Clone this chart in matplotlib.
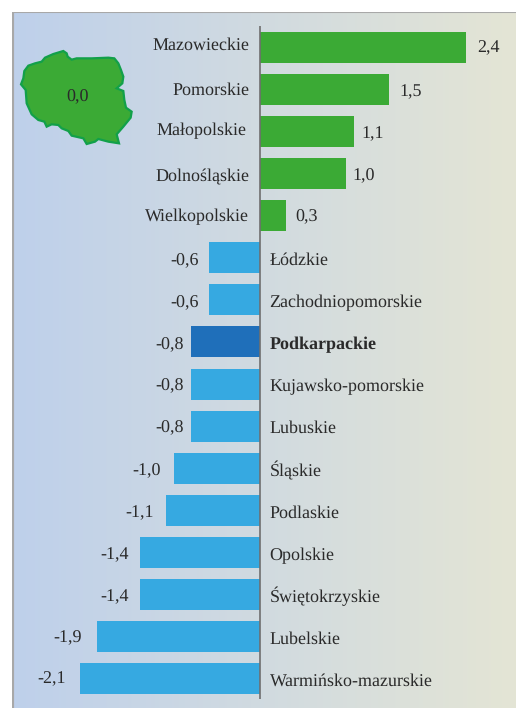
# -*- coding: utf-8 -*-
# Wykres slupkowy wojewodztw z mapka Polski w rogu
import matplotlib
matplotlib.use("Agg")
import matplotlib.pyplot as plt
import numpy as np

# Dane
regiony = ["Mazowieckie", "Pomorskie", "Małopolskie", "Dolnośląskie", "Wielkopolskie",
           "Łódzkie", "Zachodniopomorskie", "Podkarpackie", "Kujawsko-pomorskie", "Lubuskie",
           "Śląskie", "Podlaskie", "Opolskie", "Świętokrzyskie", "Lubelskie", "Warmińsko-mazurskie"]
wartosci = [2.4, 1.5, 1.1, 1.0, 0.3, -0.6, -0.6, -0.8, -0.8, -0.8, -1.0, -1.1, -1.4, -1.4, -1.9, -2.1]
polska = "0,0"
wyrozniony = "Podkarpackie"

# Przesuniecia podpisow w pikselach (w oryginale nie sa rowne)
nazwa_dy = [2.5, 5.5, 3.5, 7.3, 5, 7, 7, 7, 7, 7, 7.8, 7.7, 7.6, 7.5, 7.5, 7]
nazwa_dx = [11, 11, 14, 11, 11, 9.5, 9.5, 9.5, 9.5, 9.5, 9.5, 9.5, 9.5, 9.5, 9.5, 9.5]
liczba_dy = [5, 6.4, 6.4, 7, 5, 7, 7, 7, 6, 6, 7, 6.7, 6.6, 6.5, 5.5, 4.5]
liczba_dx = [11, 11, 7, 7, 10, 10, 10, 8, 8, 8, 13, 12, 11, 11, 15, 14]

# Kontur mapki (wspolrzedne z wycinka 3x, poczatek w 15,45)
kontur_x = [18, 25, 28, 40, 60, 80, 90, 115, 145, 155, 158, 170, 185, 230, 280, 298, 310, 318, 325, 322, 305,
            325, 328, 333, 350, 347, 325, 305, 312, 280, 250, 240, 215, 205, 170, 160, 140, 130, 110, 95, 88,
            70, 50, 35, 32]
kontur_y = [118, 100, 78, 62, 55, 50, 38, 27, 18, 25, 35, 44, 40, 40, 38, 40, 55, 75, 95, 115, 130,
            138, 165, 188, 200, 218, 245, 268, 295, 290, 282, 290, 297, 280, 272, 258, 250, 240, 238, 245, 230,
            225, 208, 175, 135]

plt.rcParams["font.family"] = ["Liberation Serif", "DejaVu Serif"]
plt.rcParams["font.size"] = 13.15
plt.rcParams["text.hinting"] = "no_hinting"
plt.rcParams["text.hinting_factor"] = 1

fig = plt.figure(figsize=(5.16, 7.08), dpi=100, facecolor="white")
szer, wys = 516.0, 708.0
ax = fig.add_axes([12 / szer, 0, (szer - 12) / szer, (wys - 12) / wys])

skala = 85.8
odstep = 42.07
xmin = (12 - 260) / skala
xmax = (516 - 260) / skala
ydol = (708 - 47.5) / odstep
ygora = (12 - 47.5) / odstep
ax.set_xlim(xmin, xmax)
ax.set_ylim(ydol, ygora)
ax.axis("off")

# Tlo z gradientem
gradient = np.linspace(0, 1, 256).reshape(1, -1, 1)
lewy = np.array([0.745, 0.816, 0.922])
prawy = np.array([0.894, 0.898, 0.835])
ax.imshow(lewy + (prawy - lewy) * gradient, extent=[xmin, xmax, ydol, ygora], aspect="auto", zorder=0)

# Slupki
y = np.arange(len(regiony))
kolory = []
for r, v in zip(regiony, wartosci):
    if r == wyrozniony:
        kolory.append("#1F6FBA")
    elif v > 0:
        kolory.append("#3BAA35")
    else:
        kolory.append("#36A9E1")
ax.barh(y, wartosci, height=0.737, color=kolory, zorder=2)
ax.plot([0, 0], [-0.52, 15.49], color="#6F6F6F", lw=1.2, zorder=3, solid_capstyle="butt")

# Podpisy
for i, (r, v) in enumerate(zip(regiony, wartosci)):
    txt = f"{v:.1f}".replace(".", ",")
    waga = "bold" if r == wyrozniony else "normal"
    yn = i + nazwa_dy[i] / odstep
    yl = i + liczba_dy[i] / odstep
    if v > 0:
        ax.text(-nazwa_dx[i] / skala, yn, r, ha="right", va="baseline", color="#2A2A2A", zorder=4)
        ax.text(v + liczba_dx[i] / skala, yl, txt, ha="left", va="baseline", color="#2A2A2A", zorder=4)
    else:
        ax.text(nazwa_dx[i] / skala, yn, r, ha="left", va="baseline", color="#2A2A2A", weight=waga, zorder=4)
        ax.text(v - liczba_dx[i] / skala, yl, txt, ha="right", va="baseline", color="#2A2A2A", zorder=4)

# Ramka panelu
ax.plot([xmin, xmin], [ydol, ygora], color="#A8A8A8", lw=3, zorder=5)
ax.plot([xmin, xmax], [ygora, ygora], color="#A8A8A8", lw=1.5, zorder=5)

# Mapka
mapa_x = [(15 + p / 3 - 260) / skala for p in kontur_x]
mapa_y = [(45 + p / 3 - 47.5) / odstep for p in kontur_y]
ax.fill(mapa_x, mapa_y, facecolor="#3BAA35", edgecolor="#12A04A", lw=1.6, zorder=2)
ax.text((78 - 260) / skala, (101 - 47.5) / odstep, polska, ha="center", va="baseline", color="#2A2A2A", zorder=4)

fig.savefig("out.png", dpi=100)
